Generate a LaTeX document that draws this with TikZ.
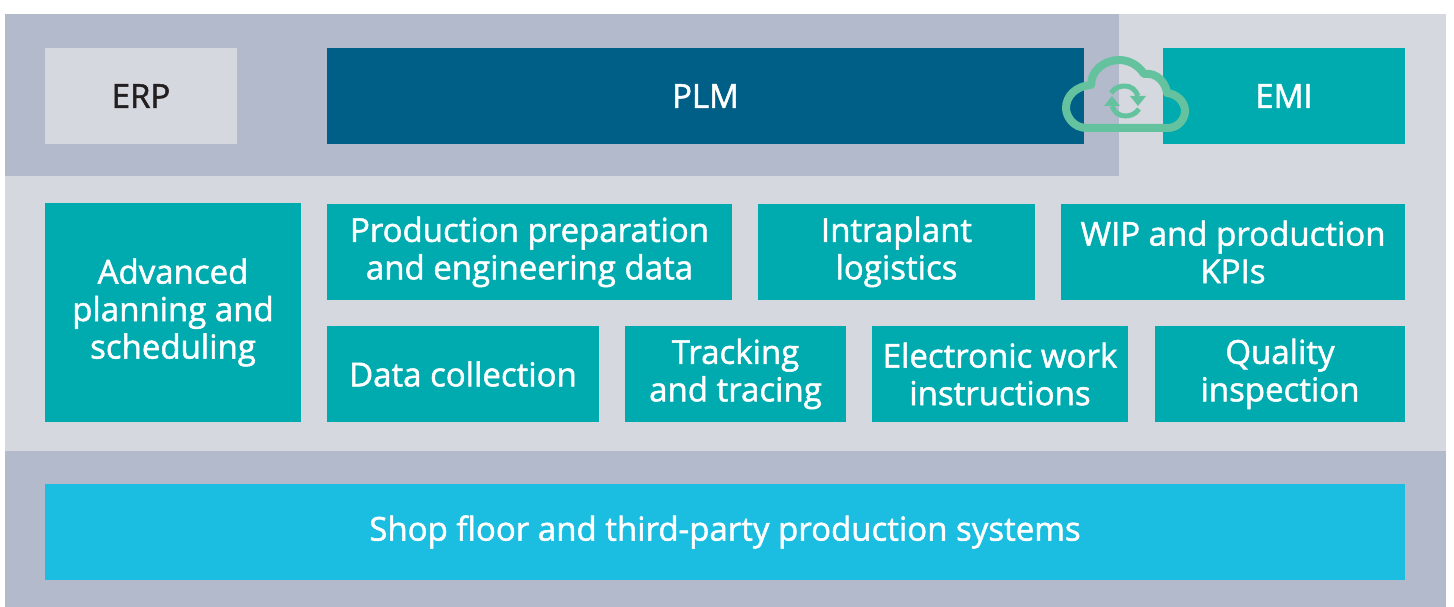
\documentclass[tikz,border=0pt]{standalone}
\usepackage{fontspec}
\setmainfont{Open Sans}[BoldFont={Open Sans},BoldFeatures={FakeBold=1.5}]
\definecolor{bandA}{HTML}{B3BACB}
\definecolor{bandB}{HTML}{D5D8DE}
\definecolor{teal}{HTML}{00ABAF}
\definecolor{navy}{HTML}{005F87}
\definecolor{sky}{HTML}{1BBDE1}
\definecolor{ink}{HTML}{231F20}
\definecolor{cloudc}{HTML}{64C39E}
\tikzset{x=1pt,y=-1pt,
 boxn/.style={anchor=center,inner sep=0pt,outer sep=0pt,align=center,font=\fontsize{33}{37.5}\selectfont\bfseries,text=white},
}
\newcommand{\bx}[7]{% name, x0,y0,x1,y1,color,text
 \fill[#6] (#2,#3) rectangle (#4,#5);
 \node[boxn] (#1) at ({(#2+#4)/2},{(#3+#5)/2}) {#7};
}
\begin{document}
\begin{tikzpicture}
\useasboundingbox (0,0) rectangle (1454,607);
\fill[white] (0,0) rectangle (1454,607);
\fill[bandB] (5,14) rectangle (1446,451);
\fill[bandA] (5,14) rectangle (1119,176);
\fill[bandA] (5,451) rectangle (1446,607);
\bx{erp}{45}{48}{237}{144}{bandB}{\textcolor{ink}{ERP}}
\bx{plm}{327}{48}{1084}{144}{navy}{PLM}
\bx{emi}{1163}{48}{1405}{144}{teal}{EMI}
\bx{aps}{45}{203}{301}{422}{teal}{Advanced\\planning and\\scheduling}
\bx{prep}{327}{204}{732}{300}{teal}{Production preparation\\and engineering data}
\bx{intra}{758}{204}{1035}{300}{teal}{Intraplant\\logistics}
\bx{wip}{1061}{204}{1405}{300}{teal}{WIP and production\\KPIs}
\bx{data}{327}{326}{599}{422}{teal}{Data collection}
\bx{track}{625}{326}{846}{422}{teal}{Tracking\\and tracing}
\bx{ewi}{872}{326}{1128}{422}{teal}{Electronic work\\instructions}
\bx{qual}{1155}{326}{1405}{422}{teal}{Quality\\inspection}
\bx{shop}{45}{484}{1405}{580}{sky}{Shop floor and third-party production systems}
% cloud
\draw[cloudc,line width=8pt,line join=round]
 (1087,128) .. controls (1073,128) and (1066,116) .. (1066,108)
 .. controls (1066,96) and (1076,86) .. (1091,85)
 .. controls (1091,70) and (1105,60) .. (1119,60)
 .. controls (1130,60) and (1139,66) .. (1144,74)
 .. controls (1158,72) and (1166,84) .. (1167,93)
 .. controls (1177,94) and (1185,102) .. (1185,111)
 .. controls (1185,120) and (1177,128) .. (1168,128) -- cycle;
% refresh arrows, centre (1125,101)
\draw[cloudc,line width=5pt] (1111,93) .. controls (1115,87) and (1121,86) .. (1125,86) .. controls (1131,86) and (1136,90) .. (1138,96);
\fill[cloudc] (1130,96) -- (1146,96) -- (1138,106) -- cycle;
\draw[cloudc,line width=5pt] (1139,109) .. controls (1135,115) and (1129,116) .. (1125,116) .. controls (1119,116) and (1114,112) .. (1112,106);
\fill[cloudc] (1104,106) -- (1120,106) -- (1112,96) -- cycle;
\end{tikzpicture}
\end{document}
